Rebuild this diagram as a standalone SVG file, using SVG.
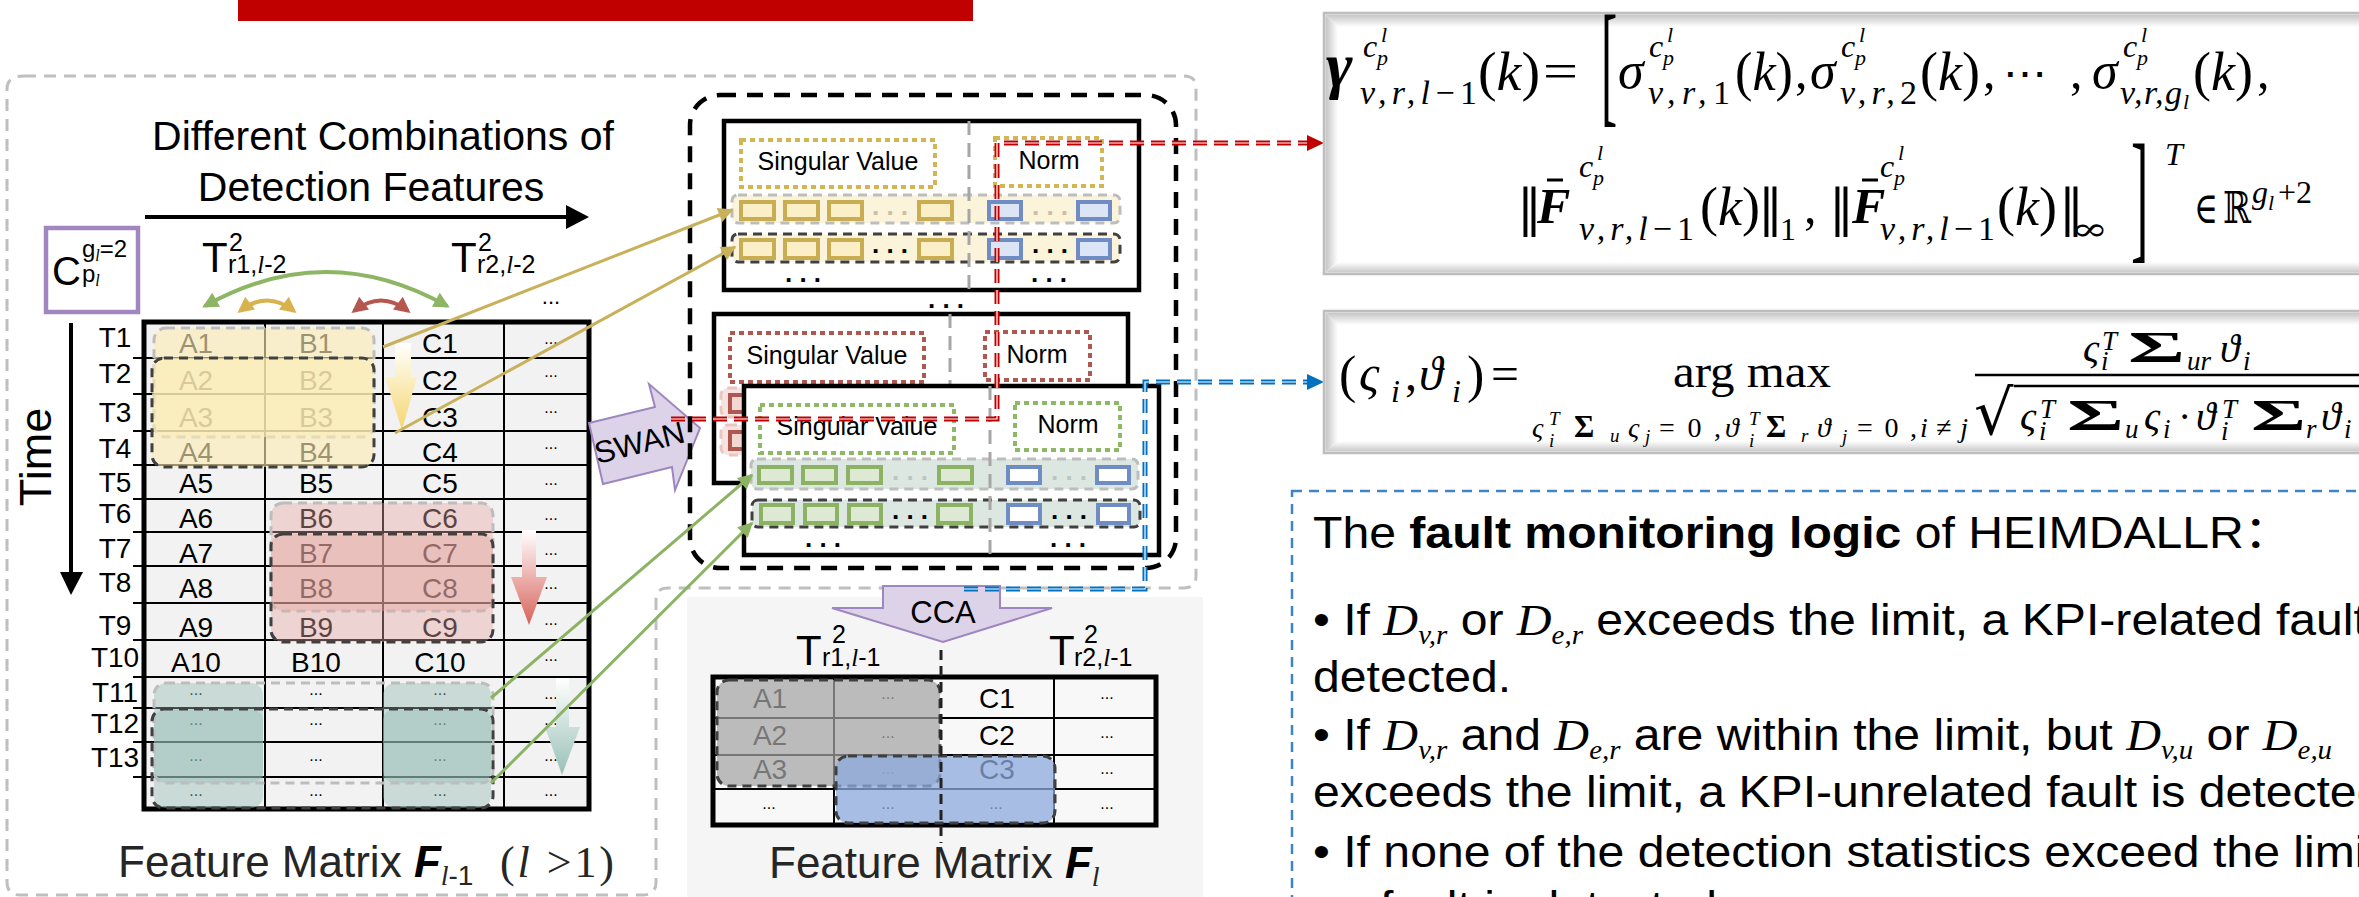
<svg xmlns="http://www.w3.org/2000/svg" width="2359" height="897" viewBox="0 0 2359 897">
<defs>
<style>
text{font-family:"Liberation Sans",Arial,sans-serif}
.mi{font-family:"Liberation Serif","DejaVu Serif",serif;font-style:italic}
.mr{font-family:"Liberation Serif","DejaVu Serif",serif;font-style:normal}
.sym{font-family:"DejaVu Serif","Liberation Serif",serif;font-style:normal}
.cjk{font-family:"Liberation Sans","Noto Sans CJK SC",sans-serif}
.cell{font-size:28px;text-anchor:middle}
.dots{font-size:16px;text-anchor:middle}
.rowlab{font-size:28px;text-anchor:middle}
.grid{stroke:#000;stroke-width:2}
.frame{stroke:#000;stroke-width:5}
.dashL{stroke:#BDBDBD;stroke-width:3;stroke-dasharray:9 6}
.dashD{stroke:#404040;stroke-width:3;stroke-dasharray:9 6}
.box{fill:#fff;stroke:#000;stroke-width:4.5}
.divider{stroke:#A6A6A6;stroke-width:3;stroke-dasharray:14 8}
.lab{font-size:25px;text-anchor:middle}
.dotY{fill:none;stroke:#D2B653;stroke-width:4;stroke-dasharray:5 4}
.dotR{fill:none;stroke:#B0584F;stroke-width:4;stroke-dasharray:5 4}
.dotG{fill:none;stroke:#8DB865;stroke-width:4;stroke-dasharray:5 4}
.sqY{fill:#FBEFC8;stroke:#C9AD52;stroke-width:4}
.sqB{fill:#DCE5F5;stroke:#6F8CC4;stroke-width:4}
.sqW{fill:#fff;stroke:#6F8CC4;stroke-width:4}
.sqG{fill:#DDE9D3;stroke:#8BB363;stroke-width:4}
.sqR{fill:#F3D7D3;stroke:#B0574F;stroke-width:4}
.bdots{font-size:26px;font-weight:bold;text-anchor:middle}
.blk{fill:#DCD3E8;stroke:#9E86C0;stroke-width:2}
.bev{fill:#fff;stroke:#BDBDBD;stroke-width:2.5}
</style>
<linearGradient id="gY" x1="0" y1="0" x2="0" y2="1"><stop offset="0" stop-color="#fff"/><stop offset="1" stop-color="#F5D66E"/></linearGradient>
<linearGradient id="gR" x1="0" y1="0" x2="0" y2="1"><stop offset="0" stop-color="#fff"/><stop offset="1" stop-color="#D8625B"/></linearGradient>
<linearGradient id="gT" x1="0" y1="0" x2="0" y2="1"><stop offset="0" stop-color="#fff"/><stop offset="1" stop-color="#98C0B6"/></linearGradient>
<linearGradient id="bevT" x1="0" y1="0" x2="0" y2="1"><stop offset="0" stop-color="#C4C4C4"/><stop offset="1" stop-color="#fff"/></linearGradient>
<linearGradient id="bevL" x1="0" y1="0" x2="1" y2="0"><stop offset="0" stop-color="#C4C4C4"/><stop offset="1" stop-color="#fff"/></linearGradient>
<linearGradient id="bevB" x1="0" y1="0" x2="0" y2="1"><stop offset="0" stop-color="#fff"/><stop offset="1" stop-color="#C8C8C8"/></linearGradient>
<marker id="mY" viewBox="0 0 10 10" refX="9" refY="5" markerWidth="6" markerHeight="5" orient="auto"><path d="M0,0L10,5L0,10z" fill="#C9B05A"/></marker>
<marker id="mG" viewBox="0 0 10 10" refX="9" refY="5" markerWidth="6" markerHeight="5" orient="auto"><path d="M0,0L10,5L0,10z" fill="#8BB363"/></marker>
<marker id="cG" viewBox="0 0 10 10" refX="8" refY="5" markerWidth="4.5" markerHeight="4" orient="auto-start-reverse"><path d="M0,0L10,5L0,10z" fill="#8DB563"/></marker>
<marker id="cY" viewBox="0 0 10 10" refX="8" refY="5" markerWidth="4.5" markerHeight="4" orient="auto-start-reverse"><path d="M0,0L10,5L0,10z" fill="#D7B24F"/></marker>
<marker id="cR" viewBox="0 0 10 10" refX="8" refY="5" markerWidth="4.5" markerHeight="4" orient="auto-start-reverse"><path d="M0,0L10,5L0,10z" fill="#B5574E"/></marker>
</defs>

<rect width="2359" height="897" fill="#fff"/>

<!-- title bar -->
<rect x="238" y="0" width="735" height="21" fill="#C00000"/>

<!-- light panel behind the reduced matrix -->
<rect x="687" y="597" width="516" height="300" fill="#F5F5F5"/>

<!-- outer grey dashed frame -->
<path d="M24,76 H1184 Q1196,76 1196,88 V576 Q1196,588 1184,588 H668 Q656,588 656,600 V882 Q656,895 643,895 H20 Q7,895 7,882 V89 Q7,76 24,76 Z" fill="none" stroke="#BFBFBF" stroke-width="3" stroke-dasharray="12 8"/>

<!-- ===== feature matrix F(l-1) ===== -->
<g id="matrix-prev">
  <text x="383" y="150" font-size="41" text-anchor="middle">Different Combinations of</text>
  <text x="371" y="201" font-size="41" text-anchor="middle">Detection Features</text>
  <line x1="145" y1="217" x2="570" y2="217" stroke="#000" stroke-width="4"/>
  <polygon points="566,205 589,217 566,229" fill="#000"/>

  <g id="combo-box">
    <rect x="46" y="228" width="92" height="84" fill="#fff" stroke="#A286C0" stroke-width="4.5"/>
    <text x="52" y="285" font-size="40">C</text>
    <text x="82" y="257" font-size="24">g<tspan class="mi" font-size="16" dy="4">l</tspan><tspan dy="-4">=2</tspan></text>
    <text x="82" y="282" font-size="24">p<tspan class="mi" font-size="16" dy="4">l</tspan></text>
  </g>

  <text x="202" y="272" font-size="42">T</text>
  <text x="229" y="251" font-size="25">2</text>
  <text x="228" y="273" font-size="25">r1,<tspan class="mi">l</tspan>-2</text>
  <text x="451" y="272" font-size="42">T</text>
  <text x="478" y="251" font-size="25">2</text>
  <text x="477" y="273" font-size="25">r2,<tspan class="mi">l</tspan>-2</text>
  <text x="551" y="304" font-size="22" text-anchor="middle">...</text>

  <path d="M205,306 Q326,238 447,306" fill="none" stroke="#8DB563" stroke-width="4" marker-start="url(#cG)" marker-end="url(#cG)"/>
  <path d="M240,311 Q267,290 294,311" fill="none" stroke="#D7B24F" stroke-width="4" marker-start="url(#cY)" marker-end="url(#cY)"/>
  <path d="M354,311 Q381,290 408,311" fill="none" stroke="#B5574E" stroke-width="4" marker-start="url(#cR)" marker-end="url(#cR)"/>

  <!-- time axis -->
  <text transform="translate(51,457) rotate(-90)" font-size="45" text-anchor="middle">Time</text>
  <line x1="71" y1="323" x2="71" y2="576" stroke="#000" stroke-width="4"/>
  <polygon points="60,572 83,572 71,595" fill="#000"/>

  <!-- table body -->
  <rect x="144" y="322" width="445" height="487" fill="#F2F2F2"/>
  <g class="grid">
    <line x1="265" y1="322" x2="265" y2="809"/>
    <line x1="383" y1="322" x2="383" y2="809"/>
    <line x1="504" y1="322" x2="504" y2="809"/>
    <line x1="133" y1="358" x2="589" y2="358"/>
    <line x1="133" y1="394" x2="589" y2="394"/>
    <line x1="133" y1="431" x2="589" y2="431"/>
    <line x1="133" y1="465" x2="589" y2="465"/>
    <line x1="133" y1="499" x2="589" y2="499"/>
    <line x1="133" y1="532" x2="589" y2="532"/>
    <line x1="133" y1="566" x2="589" y2="566"/>
    <line x1="133" y1="603" x2="589" y2="603"/>
    <line x1="133" y1="640" x2="589" y2="640"/>
    <line x1="133" y1="677" x2="589" y2="677"/>
    <line x1="133" y1="708" x2="589" y2="708"/>
    <line x1="133" y1="742" x2="589" y2="742"/>
    <line x1="133" y1="777" x2="589" y2="777"/>
  </g>
  <rect x="144" y="322" width="445" height="487" fill="none" class="frame"/>

  <g class="rowlab">
    <text x="115" y="347">T1</text><text x="115" y="383">T2</text><text x="115" y="422">T3</text>
    <text x="115" y="458">T4</text><text x="115" y="492">T5</text><text x="115" y="523">T6</text>
    <text x="115" y="558">T7</text><text x="115" y="592">T8</text><text x="115" y="635">T9</text>
    <text x="115" y="667">T10</text><text x="115" y="702">T11</text><text x="115" y="733">T12</text>
    <text x="115" y="767">T13</text>
  </g>
  <g class="cell">
    <text x="196" y="353">A1</text><text x="316" y="353">B1</text><text x="440" y="353">C1</text>
    <text x="196" y="390">A2</text><text x="316" y="390">B2</text><text x="440" y="390">C2</text>
    <text x="196" y="427">A3</text><text x="316" y="427">B3</text><text x="440" y="427">C3</text>
    <text x="196" y="462">A4</text><text x="316" y="462">B4</text><text x="440" y="462">C4</text>
    <text x="196" y="493">A5</text><text x="316" y="493">B5</text><text x="440" y="493">C5</text>
    <text x="196" y="528">A6</text><text x="316" y="528">B6</text><text x="440" y="528">C6</text>
    <text x="196" y="563">A7</text><text x="316" y="563">B7</text><text x="440" y="563">C7</text>
    <text x="196" y="598">A8</text><text x="316" y="598">B8</text><text x="440" y="598">C8</text>
    <text x="196" y="637">A9</text><text x="316" y="637">B9</text><text x="440" y="637">C9</text>
    <text x="196" y="672">A10</text><text x="316" y="672">B10</text><text x="440" y="672">C10</text>
  </g>
  <g class="dots">
    <text x="551" y="344">...</text><text x="551" y="377">...</text><text x="551" y="413">...</text>
    <text x="551" y="449">...</text><text x="551" y="485">...</text><text x="551" y="520">...</text>
    <text x="551" y="555">...</text><text x="551" y="589">...</text><text x="551" y="625">...</text>
    <text x="551" y="661">...</text><text x="551" y="699">...</text><text x="551" y="725">...</text>
    <text x="551" y="761">...</text><text x="551" y="796">...</text>
    <text x="196" y="695">...</text><text x="316" y="695">...</text><text x="440" y="695">...</text>
    <text x="196" y="725">...</text><text x="316" y="725">...</text><text x="440" y="725">...</text>
    <text x="196" y="761">...</text><text x="316" y="761">...</text><text x="440" y="761">...</text>
    <text x="196" y="796">...</text><text x="316" y="796">...</text><text x="440" y="796">...</text>
  </g>

  <!-- sliding windows -->
  <rect x="154" y="328" width="220" height="109" rx="12" fill="#FCEBB5" fill-opacity="0.62" class="dashL"/>
  <rect x="152" y="358" width="222" height="109" rx="12" fill="#FCEBB5" fill-opacity="0.62" class="dashD"/>
  <rect x="271" y="503" width="222" height="108" rx="12" fill="#E6A5A1" fill-opacity="0.4" class="dashL"/>
  <rect x="271" y="534" width="222" height="108" rx="12" fill="#E6A5A1" fill-opacity="0.4" class="dashD"/>
  <g fill="#93BCB2" fill-opacity="0.42">
    <rect x="154" y="683" width="109" height="100" rx="12"/>
    <rect x="154" y="709" width="109" height="99" rx="12"/>
    <rect x="383" y="683" width="108" height="100" rx="12"/>
    <rect x="383" y="709" width="108" height="99" rx="12"/>
  </g>
  <rect x="154" y="683" width="339" height="100" rx="12" fill="none" class="dashL"/>
  <rect x="152" y="709" width="341" height="99" rx="12" fill="none" class="dashD"/>

  <!-- window shift arrows -->
  <polygon points="395,343 411,343 411,377 417,377 402,430 385,377 395,377" fill="url(#gY)"/>
  <polygon points="522,530 536,530 536,577 547,577 529,625 511,577 522,577" fill="url(#gR)"/>
  <polygon points="556,678 569,678 569,727 580,727 562,775 545,727 556,727" fill="url(#gT)"/>

  <text x="118" y="877" font-size="44" fill="#262626">Feature Matrix <tspan font-weight="bold" font-style="italic" fill="#000">F</tspan><tspan class="mi" font-size="28" dy="8">l</tspan><tspan font-size="28">-1</tspan></text>
  <text class="mr" x="500" y="877" font-size="44" fill="#262626" textLength="114" lengthAdjust="spacing">(<tspan font-style="italic">l</tspan> &gt;1)</text>
</g>

<!-- ===== SWAN step ===== -->
<g id="swan">
  <polygon class="blk" points="589,423 655,407 649,384 700,428 675,490 672,467 603,484"/>
  <text transform="translate(642,453) rotate(-14)" font-size="31" text-anchor="middle">SWAN</text>
</g>

<!-- ===== sub-window SVD features ===== -->
<g id="svd-panel">
  <rect x="690" y="95" width="486" height="473" rx="30" fill="none" stroke="#000" stroke-width="4.5" stroke-dasharray="16 11"/>

  <g id="window-yellow">
    <rect x="724" y="121" width="415" height="169" class="box"/>
    <rect x="741" y="140" width="194" height="47" class="dotY"/>
    <text x="838" y="170" class="lab">Singular Value</text>
    <rect x="995" y="138" width="107" height="48" class="dotY"/>
    <text x="1049" y="169" class="lab">Norm</text>
    <rect x="732" y="195" width="388" height="28" rx="6" fill="#FBF3DA" class="dashL"/>
    <rect x="732" y="234" width="388" height="28" rx="6" fill="#FBF3DA" class="dashD"/>
    <line x1="969" y1="121" x2="969" y2="290" class="divider"/>
    <rect x="741" y="202" width="33" height="17" class="sqY"/><rect x="785" y="202" width="33" height="17" class="sqY"/>
    <rect x="829" y="202" width="33" height="17" class="sqY"/><rect x="919" y="202" width="33" height="17" class="sqY"/>
    <rect x="989" y="202" width="32" height="17" class="sqB"/><rect x="1078" y="202" width="32" height="17" class="sqB"/>
    <rect x="741" y="240" width="33" height="18" class="sqY"/><rect x="785" y="240" width="33" height="18" class="sqY"/>
    <rect x="829" y="240" width="33" height="18" class="sqY"/><rect x="919" y="240" width="33" height="18" class="sqY"/>
    <rect x="989" y="240" width="32" height="18" class="sqB"/><rect x="1078" y="240" width="32" height="18" class="sqB"/>
    <text x="890" y="215" class="bdots" fill="#C8C0A2">. . .</text>
    <text x="1050" y="215" class="bdots" fill="#C8C0A2">. . .</text>
    <text x="890" y="253" class="bdots">. . .</text>
    <text x="1050" y="253" class="bdots">. . .</text>
    <text x="803" y="282" class="bdots">. . .</text>
    <text x="1049" y="282" class="bdots">. . .</text>
  </g>
  <text x="946" y="308" class="bdots">. . .</text>

  <g id="window-red">
    <rect x="714" y="314" width="414" height="169" class="box"/>
    <rect x="730" y="333" width="194" height="49" class="dotR"/>
    <text x="827" y="364" class="lab">Singular Value</text>
    <rect x="985" y="332" width="105" height="48" class="dotR"/>
    <text x="1037" y="363" class="lab">Norm</text>
    <line x1="950" y1="314" x2="950" y2="483" class="divider"/>
    <rect x="721" y="388" width="390" height="29" rx="7" fill="#F7E4E1" stroke="#E8C6C2" stroke-width="3" stroke-dasharray="9 6"/>
    <rect x="721" y="425" width="390" height="30" rx="7" fill="#F7E4E1" stroke="#E8C6C2" stroke-width="3" stroke-dasharray="9 6"/>
    <rect x="730" y="395" width="33" height="17" class="sqR"/>
    <rect x="730" y="432" width="33" height="17" class="sqR"/>
  </g>

  <g id="window-green">
    <rect x="744" y="386" width="415" height="169" class="box"/>
    <rect x="760" y="405" width="194" height="48" class="dotG"/>
    <text x="857" y="435" class="lab">Singular Value</text>
    <rect x="1015" y="403" width="105" height="47" class="dotG"/>
    <text x="1068" y="433" class="lab">Norm</text>
    <rect x="751" y="459" width="387" height="30" rx="6" fill="#DCE7E2" class="dashL"/>
    <rect x="752" y="500" width="388" height="27" rx="6" fill="#DCE7E2" class="dashD"/>
    <line x1="990" y1="386" x2="990" y2="555" class="divider"/>
    <rect x="759" y="467" width="33" height="16" class="sqG"/><rect x="803" y="467" width="33" height="16" class="sqG"/>
    <rect x="848" y="467" width="33" height="16" class="sqG"/><rect x="939" y="467" width="33" height="16" class="sqG"/>
    <rect x="1008" y="467" width="32" height="16" class="sqW"/><rect x="1097" y="467" width="32" height="16" class="sqW"/>
    <rect x="761" y="505" width="32" height="18" class="sqG"/><rect x="805" y="505" width="32" height="18" class="sqG"/>
    <rect x="849" y="505" width="32" height="18" class="sqG"/><rect x="938" y="505" width="33" height="18" class="sqG"/>
    <rect x="1008" y="505" width="32" height="18" class="sqW"/><rect x="1098" y="505" width="31" height="18" class="sqW"/>
    <text x="910" y="480" class="bdots" fill="#B9C6C0">. . .</text>
    <text x="1069" y="480" class="bdots" fill="#B9C6C0">. . .</text>
    <text x="910" y="519" class="bdots">. . .</text>
    <text x="1069" y="519" class="bdots">. . .</text>
    <text x="823" y="547" class="bdots">. . .</text>
    <text x="1068" y="547" class="bdots">. . .</text>
  </g>
</g>

<!-- ===== CCA step ===== -->
<g id="cca">
  <polygon class="blk" points="883,586 1000,586 1000,608 1052,608 943,642 832,608 883,608"/>
  <text x="943" y="623" font-size="31" text-anchor="middle">CCA</text>
</g>

<!-- ===== feature matrix F(l) ===== -->
<g id="matrix-next">
  <text x="796" y="665" font-size="42">T</text>
  <text x="832" y="643" font-size="25">2</text>
  <text x="822" y="666" font-size="25">r1,<tspan class="mi">l</tspan>-1</text>
  <text x="1049" y="665" font-size="42">T</text>
  <text x="1084" y="643" font-size="25">2</text>
  <text x="1074" y="666" font-size="25">r2,<tspan class="mi">l</tspan>-1</text>

  <rect x="713" y="677" width="443" height="148" fill="#F8F8F8"/>
  <g class="grid">
    <line x1="834" y1="677" x2="834" y2="825"/>
    <line x1="1054" y1="677" x2="1054" y2="825"/>
    <line x1="713" y1="718" x2="1156" y2="718"/>
    <line x1="713" y1="755" x2="1156" y2="755"/>
    <line x1="713" y1="789" x2="1156" y2="789"/>
  </g>
  <rect x="713" y="677" width="443" height="148" fill="none" class="frame"/>
  <g class="cell">
    <text x="770" y="708">A1</text><text x="997" y="708">C1</text>
    <text x="770" y="745">A2</text><text x="997" y="745">C2</text>
    <text x="770" y="779">A3</text><text x="997" y="779">C3</text>
  </g>
  <g class="dots">
    <text x="888" y="699">...</text><text x="1107" y="699">...</text>
    <text x="888" y="738">...</text><text x="1107" y="738">...</text>
    <text x="888" y="774">...</text><text x="1107" y="774">...</text>
    <text x="769" y="809">...</text><text x="888" y="809">...</text><text x="996" y="809">...</text><text x="1107" y="809">...</text>
  </g>
  <rect x="717" y="680" width="223" height="106" rx="12" fill="#A3A3A3" fill-opacity="0.72" class="dashD"/>
  <rect x="836" y="756" width="219" height="67" rx="12" fill="#8DA9DC" fill-opacity="0.75" class="dashD"/>
  <line x1="941" y1="650" x2="941" y2="843" stroke="#222" stroke-width="3" stroke-dasharray="10 6"/>

  <text x="769" y="878" font-size="44" fill="#262626">Feature Matrix <tspan font-weight="bold" font-style="italic" fill="#000">F</tspan><tspan class="mi" font-size="28" dy="8">l</tspan></text>
</g>

<!-- ===== connectors ===== -->
<g id="connectors">
  <line x1="383" y1="347" x2="732" y2="210" stroke="#C9B05A" stroke-width="3" marker-end="url(#mY)"/>
  <line x1="395" y1="433" x2="735" y2="247" stroke="#C9B05A" stroke-width="3" marker-end="url(#mY)"/>
  <line x1="491" y1="698" x2="752" y2="475" stroke="#8BB363" stroke-width="3" marker-end="url(#mG)"/>
  <line x1="491" y1="783" x2="752" y2="523" stroke="#8BB363" stroke-width="3" marker-end="url(#mG)"/>

  <polyline points="671,419 997,419 997,143 1309,143" fill="none" stroke="#C00000" stroke-width="5" stroke-dasharray="14 7"/>
  <polyline points="671,419 997,419 997,143 1309,143" fill="none" stroke="#fff" stroke-width="1.2" stroke-dasharray="14 7"/>
  <polygon points="1307,135 1324,143 1307,151" fill="#C00000"/>

  <polyline points="964,589 1145,589 1145,382 1309,382" fill="none" stroke="#0070C0" stroke-width="5" stroke-dasharray="14 7"/>
  <polyline points="964,589 1145,589 1145,382 1309,382" fill="none" stroke="#fff" stroke-width="1.2" stroke-dasharray="14 7"/>
  <polygon points="1307,374 1324,382 1307,390" fill="#0070C0"/>
</g>

<!-- ===== feature vector formula ===== -->
<g id="formula-feature">
  <rect x="1324" y="13" width="1050" height="261" class="bev"/>
  <polygon points="1325.5,14.5 2359,14.5 2359,27 1338,27" fill="url(#bevT)"/>
  <polygon points="1325.5,14.5 1338,27 1338,261 1325.5,272.5" fill="url(#bevL)"/>
  <polygon points="1325.5,272.5 1338,262 2359,262 2359,272.5" fill="url(#bevB)"/>

  <text class="mi" x="1326" y="86" font-size="64" font-weight="bold">γ</text>
  <text class="mi" x="1363" y="57" font-size="32">c</text>
  <text class="mi" x="1381" y="42" font-size="22">l</text>
  <text class="mi" x="1377" y="65" font-size="22">p</text>
  <text class="mi" x="1360" y="104" font-size="34" textLength="117" lengthAdjust="spacing">v,r,l<tspan class="mr">−1</tspan></text>
  <text class="mr" x="1478" y="90" font-size="54" textLength="62" lengthAdjust="spacingAndGlyphs">(<tspan class="mi">k</tspan>)</text>
  <text class="mr" x="1543" y="88" font-size="50" textLength="35" lengthAdjust="spacingAndGlyphs">=</text>
  <text class="mr" font-size="135" transform="translate(1601,109) scale(0.36,1)">[</text>

  <text class="mi" x="1618" y="88" font-size="52">σ</text>
  <text class="mi" x="1649" y="57" font-size="32">c</text>
  <text class="mi" x="1667" y="42" font-size="22">l</text>
  <text class="mi" x="1663" y="65" font-size="22">p</text>
  <text class="mi" x="1648" y="104" font-size="34" textLength="82" lengthAdjust="spacing">v,r,<tspan class="mr">1</tspan></text>
  <text class="mr" x="1735" y="90" font-size="54" textLength="58" lengthAdjust="spacingAndGlyphs">(<tspan class="mi">k</tspan>)</text>
  <text class="mr" x="1795" y="88" font-size="50">,</text>

  <text class="mi" x="1810" y="88" font-size="52">σ</text>
  <text class="mi" x="1841" y="57" font-size="32">c</text>
  <text class="mi" x="1859" y="42" font-size="22">l</text>
  <text class="mi" x="1855" y="65" font-size="22">p</text>
  <text class="mi" x="1840" y="104" font-size="34" textLength="77" lengthAdjust="spacing">v,r,<tspan class="mr">2</tspan></text>
  <text class="mr" x="1920" y="90" font-size="54" textLength="60" lengthAdjust="spacingAndGlyphs">(<tspan class="mi">k</tspan>)</text>
  <text class="mr" x="1983" y="88" font-size="50">,</text>
  <text class="sym" x="2003" y="88" font-size="44" textLength="44" lengthAdjust="spacingAndGlyphs">⋯</text>
  <text class="mr" x="2070" y="88" font-size="50">,</text>

  <text class="mi" x="2092" y="88" font-size="52">σ</text>
  <text class="mi" x="2123" y="57" font-size="32">c</text>
  <text class="mi" x="2141" y="42" font-size="22">l</text>
  <text class="mi" x="2137" y="65" font-size="22">p</text>
  <text class="mi" x="2120" y="104" font-size="34" textLength="62" lengthAdjust="spacing">v,r,g</text>
  <text class="mi" x="2183" y="109" font-size="22">l</text>
  <text class="mr" x="2193" y="90" font-size="54" textLength="60" lengthAdjust="spacingAndGlyphs">(<tspan class="mi">k</tspan>)</text>
  <text class="mr" x="2257" y="88" font-size="50">,</text>

  <text class="sym" x="1517" y="225" font-size="50">‖</text>
  <text class="mi" x="1537" y="223" font-size="50" font-weight="bold">F</text>
  <line x1="1547" y1="180" x2="1563" y2="180" stroke="#000" stroke-width="3"/>
  <text class="mi" x="1579" y="177" font-size="32">c</text>
  <text class="mi" x="1597" y="160" font-size="22">l</text>
  <text class="mi" x="1593" y="185" font-size="22">p</text>
  <text class="mi" x="1579" y="240" font-size="34" textLength="115" lengthAdjust="spacing">v,r,l<tspan class="mr">−1</tspan></text>
  <text class="mr" x="1700" y="225" font-size="54" textLength="60" lengthAdjust="spacingAndGlyphs">(<tspan class="mi">k</tspan>)</text>
  <text class="sym" x="1758" y="225" font-size="50">‖</text>
  <text class="mr" x="1780" y="240" font-size="32">1</text>
  <text class="mr" x="1804" y="223" font-size="50">,</text>

  <text class="sym" x="1829" y="225" font-size="50">‖</text>
  <text class="mi" x="1852" y="223" font-size="50" font-weight="bold">F</text>
  <line x1="1862" y1="180" x2="1878" y2="180" stroke="#000" stroke-width="3"/>
  <text class="mi" x="1880" y="177" font-size="32">c</text>
  <text class="mi" x="1898" y="160" font-size="22">l</text>
  <text class="mi" x="1894" y="185" font-size="22">p</text>
  <text class="mi" x="1880" y="240" font-size="34" textLength="115" lengthAdjust="spacing">v,r,l<tspan class="mr">−1</tspan></text>
  <text class="mr" x="1997" y="225" font-size="54" textLength="60" lengthAdjust="spacingAndGlyphs">(<tspan class="mi">k</tspan>)</text>
  <text class="sym" x="2059" y="225" font-size="50">‖</text>
  <text class="sym" x="2071" y="240" font-size="32" textLength="37" lengthAdjust="spacingAndGlyphs">∞</text>
  <text class="mr" font-size="145" transform="translate(2131,244) scale(0.36,1)">]</text>
  <text class="mi" x="2165" y="165" font-size="32">T</text>
  <text class="sym" x="2194" y="223" font-size="44" textLength="24" lengthAdjust="spacingAndGlyphs">∈</text>
  <text class="sym" x="2223" y="223" font-size="44" textLength="28" lengthAdjust="spacingAndGlyphs">ℝ</text>
  <text class="mi" x="2252" y="203" font-size="32">g</text>
  <text class="mi" x="2268" y="210" font-size="22">l</text>
  <text class="mr" x="2278" y="203" font-size="32">+2</text>
</g>

<!-- ===== CCA objective ===== -->
<g id="formula-cca">
  <rect x="1324" y="311" width="1050" height="142" class="bev"/>
  <polygon points="1325.5,312.5 2359,312.5 2359,325 1338,325" fill="url(#bevT)"/>
  <polygon points="1325.5,312.5 1338,325 1338,441 1325.5,451.5" fill="url(#bevL)"/>
  <polygon points="1325.5,451.5 1338,441 2359,441 2359,451.5" fill="url(#bevB)"/>

  <text class="mr" x="1339" y="392" font-size="52">(</text>
  <text class="mi" x="1359" y="390" font-size="50">ς</text>
  <text class="mi" x="1391" y="402" font-size="32">i</text>
  <text class="mr" x="1405" y="390" font-size="48">,</text>
  <text class="mi" x="1419" y="390" font-size="48">ϑ</text>
  <text class="mi" x="1452" y="402" font-size="32">i</text>
  <text class="mr" x="1467" y="392" font-size="52">)</text>
  <text class="mr" x="1491" y="390" font-size="48" textLength="28" lengthAdjust="spacingAndGlyphs">=</text>
  <text class="mr" x="1673" y="387" font-size="46" textLength="158" lengthAdjust="spacingAndGlyphs">arg max</text>

  <text class="mi" x="1532" y="437" font-size="28">ς</text>
  <text class="mi" x="1549" y="425" font-size="19">T</text>
  <text class="mi" x="1549" y="447" font-size="19">i</text>
  <text class="mr" x="1574" y="437" font-size="31" font-weight="bold">Σ</text>
  <text class="mi" x="1610" y="442" font-size="19">u</text>
  <text class="mi" x="1628" y="437" font-size="28">ς</text>
  <text class="mi" x="1645" y="443" font-size="19">j</text>
  <text class="mr" x="1659" y="437" font-size="28" textLength="62" lengthAdjust="spacing">=0,</text>
  <text class="mi" x="1725" y="437" font-size="28">ϑ</text>
  <text class="mi" x="1749" y="425" font-size="19">T</text>
  <text class="mi" x="1749" y="447" font-size="19">i</text>
  <text class="mr" x="1766" y="437" font-size="31" font-weight="bold">Σ</text>
  <text class="mi" x="1801" y="442" font-size="19">r</text>
  <text class="mi" x="1817" y="437" font-size="28">ϑ</text>
  <text class="mi" x="1842" y="443" font-size="19">j</text>
  <text class="mr" x="1857" y="437" font-size="28" textLength="60" lengthAdjust="spacing">=0,</text>
  <text class="mi" x="1920" y="437" font-size="28" textLength="48" lengthAdjust="spacing">i<tspan class="mr">≠</tspan>j</text>

  <text class="mi" x="2083" y="362" font-size="40">ς</text>
  <text class="mi" x="2102" y="350" font-size="27">T</text>
  <text class="mi" x="2101" y="370" font-size="27">i</text>
  <text class="mr" x="2128" y="362" font-size="44" font-weight="bold" textLength="57" lengthAdjust="spacingAndGlyphs">Σ</text>
  <text class="mi" x="2187" y="370" font-size="27">ur</text>
  <text class="mi" x="2220" y="362" font-size="40">ϑ</text>
  <text class="mi" x="2243" y="370" font-size="27">i</text>

  <line x1="1975" y1="375" x2="2359" y2="375" stroke="#000" stroke-width="2.5"/>
  <text class="sym" x="1974" y="434" font-size="62">√</text>
  <line x1="2014" y1="386" x2="2359" y2="386" stroke="#000" stroke-width="2.5"/>
  <text class="mi" x="2020" y="430" font-size="40">ς</text>
  <text class="mi" x="2040" y="418" font-size="27">T</text>
  <text class="mi" x="2039" y="440" font-size="27">i</text>
  <text class="mr" x="2067" y="430" font-size="44" font-weight="bold" textLength="57" lengthAdjust="spacingAndGlyphs">Σ</text>
  <text class="mi" x="2125" y="438" font-size="27">u</text>
  <text class="mi" x="2144" y="430" font-size="40">ς</text>
  <text class="mi" x="2163" y="438" font-size="27">i</text>
  <text class="mr" x="2178" y="430" font-size="40">·</text>
  <text class="mi" x="2196" y="430" font-size="40">ϑ</text>
  <text class="mi" x="2222" y="418" font-size="27">T</text>
  <text class="mi" x="2221" y="440" font-size="27">i</text>
  <text class="mr" x="2251" y="430" font-size="44" font-weight="bold" textLength="55" lengthAdjust="spacingAndGlyphs">Σ</text>
  <text class="mi" x="2306" y="438" font-size="27">r</text>
  <text class="mi" x="2321" y="430" font-size="40">ϑ</text>
  <text class="mi" x="2344" y="438" font-size="27">i</text>
</g>

<!-- ===== monitoring logic ===== -->
<g id="monitor-logic">
  <rect x="1292" y="491" width="1100" height="450" fill="none" stroke="#3D85C6" stroke-width="2.5" stroke-dasharray="10 7"/>
  <g transform="matrix(1.07 0 0 1 -91.9 0)" font-size="45">
    <text x="1313" y="548">The <tspan font-weight="bold">fault monitoring logic</tspan> of HEIMDALLR<tspan class="cjk">：</tspan></text>
    <text x="1313" y="635">• If <tspan class="mi">D</tspan><tspan class="mi" font-size="27" dy="9">v,r</tspan><tspan dy="-9"> or </tspan><tspan class="mi">D</tspan><tspan class="mi" font-size="27" dy="9">e,r</tspan><tspan dy="-9"> exceeds the limit, a KPI-related fault is</tspan></text>
    <text x="1313" y="692">detected.</text>
    <text x="1313" y="750">• If <tspan class="mi">D</tspan><tspan class="mi" font-size="27" dy="9">v,r</tspan><tspan dy="-9"> and </tspan><tspan class="mi">D</tspan><tspan class="mi" font-size="27" dy="9">e,r</tspan><tspan dy="-9"> are within the limit, but </tspan><tspan class="mi">D</tspan><tspan class="mi" font-size="27" dy="9">v,u</tspan><tspan dy="-9"> or </tspan><tspan class="mi">D</tspan><tspan class="mi" font-size="27" dy="9">e,u</tspan></text>
    <text x="1313" y="807">exceeds the limit, a KPI-unrelated fault is detected.</text>
    <text x="1313" y="867">• If none of the detection statistics exceed the limit,</text>
    <text x="1313" y="922">no fault is detected.</text>
  </g>
</g>
</svg>
